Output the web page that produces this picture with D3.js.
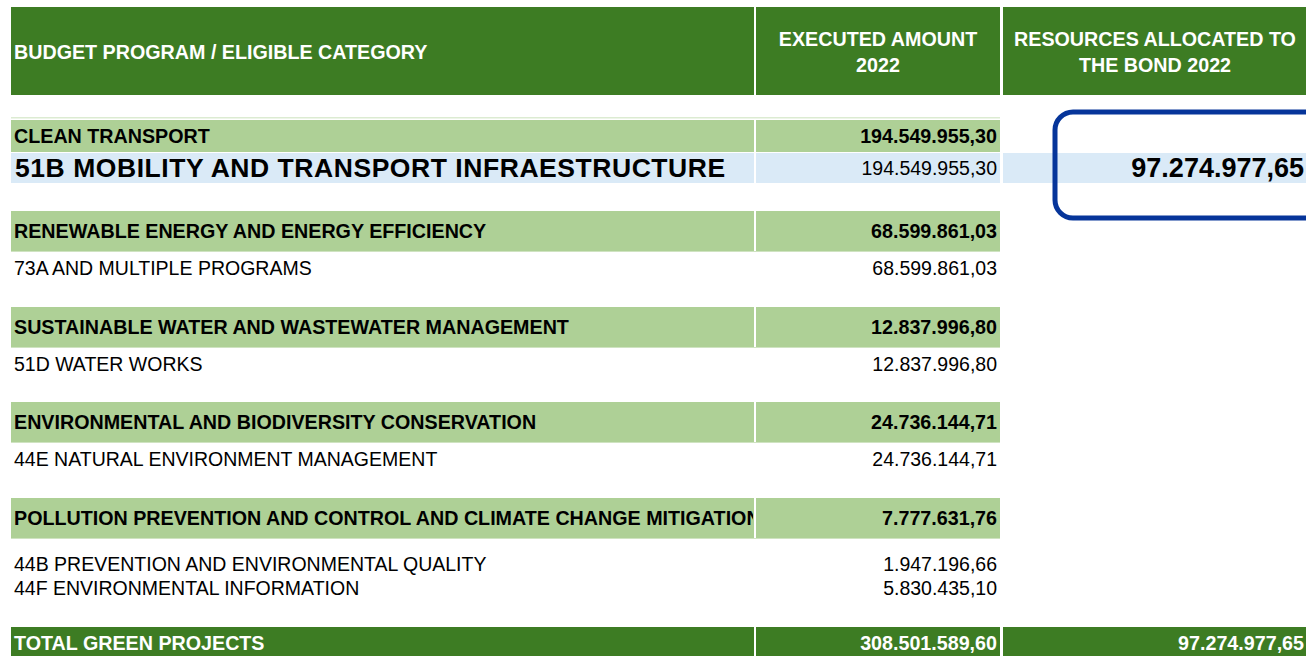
<!DOCTYPE html>
<html>
<head>
<meta charset="utf-8">
<script src="https://cdn.jsdelivr.net/npm/d3@7"></script>
<style>
  body { margin: 0; background: #fff; }
  svg { display: block; font-family: "Liberation Sans", Arial, sans-serif; }
</style>
</head>
<body>
<script>

// table data
var headers = ["BUDGET PROGRAM / ELIGIBLE CATEGORY", "EXECUTED AMOUNT\n2022", "RESOURCES ALLOCATED TO\nTHE BOND 2022"];

var categories = [
  "CLEAN TRANSPORT",
  "RENEWABLE ENERGY AND ENERGY EFFICIENCY",
  "SUSTAINABLE WATER AND WASTEWATER MANAGEMENT",
  "ENVIRONMENTAL AND BIODIVERSITY CONSERVATION",
  "POLLUTION PREVENTION AND CONTROL AND CLIMATE CHANGE MITIGATION"
];
var categoryAmounts = [194549955.30, 68599861.03, 12837996.80, 24736144.71, 7777631.76];

var programs = [
  ["51B MOBILITY AND TRANSPORT INFRAESTRUCTURE"],
  ["73A AND MULTIPLE PROGRAMS"],
  ["51D WATER WORKS"],
  ["44E NATURAL ENVIRONMENT MANAGEMENT"],
  ["44B PREVENTION AND ENVIRONMENTAL QUALITY", "44F ENVIRONMENTAL INFORMATION"]
];
var programAmounts = [
  [194549955.30],
  [68599861.03],
  [12837996.80],
  [24736144.71],
  [1947196.66, 5830435.10]
];
var bondAllocated = [97274977.65, null, null, null, null];

var totalLabel = "TOTAL GREEN PROJECTS";
var totalExecuted = 308501589.60;
var totalBond = 97274977.65;

// spanish style number format
var locale = d3.formatLocale({decimal: ",", thousands: ".", grouping: [3], currency: ["", ""]});
var fmt = locale.format(",.2f");

var width = 1306, height = 656;
var darkGreen = "#3d7c23", lightGreen = "#aed096", lightBlue = "#daeaf7", boxBlue = "#06359a";

var svg = d3.select("body").append("svg")
            .attr("width", width)
            .attr("height", height);

// columns
var colX = [11, 756, 1003];
var colW = [743, 244, 310];

svg.append("clipPath").attr("id", "col1clip")
   .append("rect").attr("x", colX[0]).attr("y", 0).attr("width", colW[0] - 1).attr("height", height);

// header
var header = svg.append("g").attr("class", "header");
header.selectAll("rect")
  .data(headers)
  .enter()
  .append("rect")
  .attr("x", function(d, i) { return colX[i]; })
  .attr("y", 7)
  .attr("width", function(d, i) { return colW[i]; })
  .attr("height", 88)
  .style("fill", darkGreen);

header.selectAll("text")
  .data(headers)
  .enter()
  .append("text")
  .attr("x", function(d, i) { return i == 0 ? colX[0] + 3 : colX[i] + colW[i] / 2 - (i == 2 ? 3 : 0); })
  .attr("y", 52)
  .attr("text-anchor", function(d, i) { return i == 0 ? "start" : "middle"; })
  .style("fill", "#fff")
  .style("font-weight", "bold")
  .style("font-size", "19.7px")
  .each(function(d) {
    var lines = d.split("\n");
    var t = d3.select(this);
    lines.forEach(function(l, j) {
      t.append("tspan")
        .attr("x", t.attr("x"))
        .attr("dy", j == 0 ? (0.35 - (lines.length - 1) * 0.64) + "em" : "1.28em")
        .text(l);
    });
  });

// vertical layout of the category blocks
var blockH = categories.map(function(c, i) {
  var n = programs[i].length;
  return i == 0 ? 32 + 31 + 28 : 40 + 56 + (n - 1) * 33;
});
var blockTops = [0];
blockH.forEach(function(h, i) { blockTops.push(blockTops[i] + h); });
var yScale = d3.scaleLinear().domain([0, d3.sum(blockH)]).range([120, 627]);

var blocks = svg.selectAll(".block")
  .data(categories)
  .enter()
  .append("g")
  .attr("class", "block")
  .attr("transform", function(d, i) { return "translate(0," + Math.round(yScale(blockTops[i])) + ")"; });

// pale line above first band
svg.append("rect")
  .attr("x", colX[0]).attr("y", yScale(0) - 3)
  .attr("width", colX[1] + colW[1] - colX[0]).attr("height", 1.5)
  .style("fill", "#dcebd2");

function bandH(i) { return i == 0 ? 32 : 40; }

// light green category bands
[0, 1].forEach(function(c) {
  blocks.append("rect")
    .attr("x", colX[c])
    .attr("y", 0)
    .attr("width", c == 0 ? colW[0] : colW[1])
    .attr("height", function(d, i) { return bandH(i); })
    .style("fill", lightGreen);
});
blocks.filter(function(d, i) { return i > 0; })
  .append("rect")
  .attr("x", colX[0]).attr("y", 40)
  .attr("width", colX[1] + colW[1] - colX[0]).attr("height", 1)
  .style("fill", "#cfe3c1");

blocks.append("text")
  .attr("x", colX[0] + 3)
  .attr("y", function(d, i) { return bandH(i) / 2; })
  .attr("dy", "0.35em")
  .attr("clip-path", "url(#col1clip)")
  .style("font-weight", "bold")
  .style("font-size", "19.7px")
  .style("fill", "#000")
  .text(function(d) { return d; });

blocks.append("text")
  .attr("x", colX[1] + colW[1] - 3)
  .attr("y", function(d, i) { return bandH(i) / 2; })
  .attr("dy", "0.35em")
  .attr("text-anchor", "end")
  .style("font-weight", "bold")
  .style("font-size", "19.7px")
  .style("fill", "#000")
  .text(function(d, i) { return fmt(categoryAmounts[i]); });

// program rows
blocks.each(function(cat, i) {
  var g = d3.select(this);
  var featured = bondAllocated[i] != null;
  var rows = programs[i].map(function(p, j) {
    var cy = featured ? bandH(i) + 16 : bandH(i) + 17 + (programs[i].length - 1) * 9 + j * 24;
    return { label: p, value: programAmounts[i][j], cy: cy };
  });

  if (featured) {
    [0, 1, 2].forEach(function(c) {
      g.append("rect")
        .attr("x", colX[c]).attr("y", bandH(i) + 1)
        .attr("width", colW[c]).attr("height", 30)
        .style("fill", lightBlue);
    });
  }

  var r = g.selectAll(".prog").data(rows).enter().append("g").attr("class", "prog");
  r.append("text")
    .attr("x", colX[0] + (featured ? 4 : 3))
    .attr("y", function(d) { return d.cy; })
    .attr("dy", "0.35em")
    .style("font-size", featured ? "26.5px" : "19.5px")
    .style("font-weight", featured ? "bold" : "normal")
    .style("letter-spacing", featured ? "0.55px" : null)
    .style("fill", "#000")
    .text(function(d) { return d.label; });
  r.append("text")
    .attr("x", colX[1] + colW[1] - 3)
    .attr("y", function(d) { return d.cy; })
    .attr("dy", "0.35em")
    .attr("text-anchor", "end")
    .style("font-size", "19.5px")
    .style("fill", "#000")
    .text(function(d) { return fmt(d.value); });

  if (featured) {
    // highlighted bond allocation with rounded frame
    g.append("rect")
      .attr("x", 1055).attr("y", -8)
      .attr("width", 300).attr("height", 106)
      .attr("rx", 18).attr("ry", 18)
      .style("fill", "none")
      .style("stroke", boxBlue)
      .style("stroke-width", 5);
    g.append("text")
      .attr("x", width - 2)
      .attr("y", rows[0].cy)
      .attr("dy", "0.35em")
      .attr("text-anchor", "end")
      .style("font-weight", "bold")
      .style("font-size", "27px")
      .style("fill", "#000")
      .text(fmt(bondAllocated[i]));
  }
});

// total row
var totalRow = svg.append("g").attr("transform", "translate(0," + yScale.range()[1] + ")");
var totals = [totalLabel, fmt(totalExecuted), fmt(totalBond)];
totalRow.selectAll("rect")
  .data(totals)
  .enter()
  .append("rect")
  .attr("x", function(d, i) { return colX[i]; })
  .attr("y", 0)
  .attr("width", function(d, i) { return colW[i]; })
  .attr("height", 40)
  .style("fill", darkGreen);
totalRow.selectAll("text")
  .data(totals)
  .enter()
  .append("text")
  .attr("x", function(d, i) { return i == 0 ? colX[0] + 3 : (i == 1 ? colX[1] + colW[1] - 3 : width - 2); })
  .attr("y", 16)
  .attr("dy", "0.35em")
  .attr("text-anchor", function(d, i) { return i == 0 ? "start" : "end"; })
  .style("fill", "#fff")
  .style("font-weight", "bold")
  .style("font-size", "19.7px")
  .text(function(d) { return d; });

</script>
</body>
</html>
